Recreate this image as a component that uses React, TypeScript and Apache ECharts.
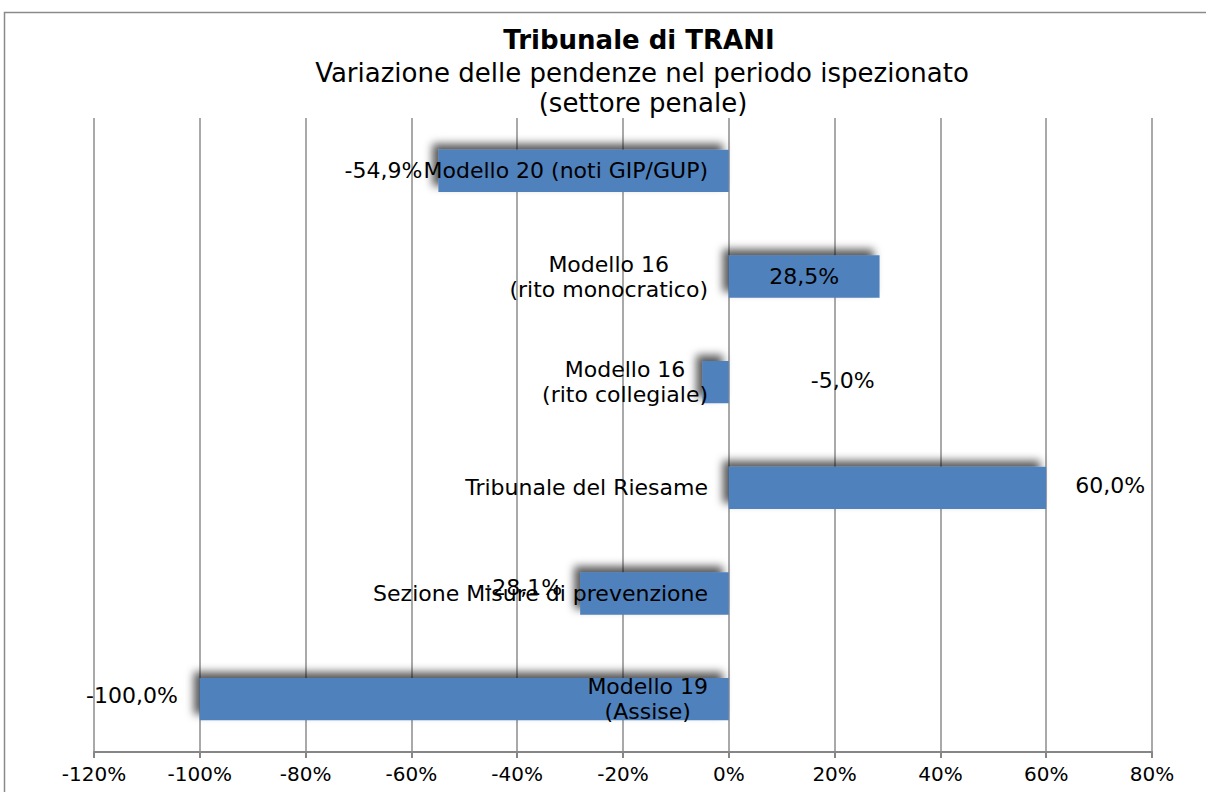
import React, { useEffect, useRef } from "react";
import * as echarts from "echarts";

const titleLines = ["Tribunale di TRANI", "Variazione delle pendenze nel periodo ispezionato", "(settore penale)"];
const categories = [
  "Modello 20 (noti GIP/GUP)",
  "Modello 16\n(rito monocratico)",
  "Modello 16\n(rito collegiale)",
  "Tribunale del Riesame",
  "Sezione Misure di prevenzione",
  "Modello 19\n(Assise)",
];
const values = [-54.9, 28.5, -5.0, 60.0, -28.1, -100.0];
const labelPositions = ["left", "inside", "right", "right", "left", "left"];
const labelDistances = [16, 5, 82, 29, 18, 22];
const labelOffsets = [[0, 0], [0, 0], [0, -2], [0, -2], [0, -6], [0, -4]];
const xTicks = { min: -120, max: 80, interval: 20 };

const FONT = "DejaVu Sans, Verdana, sans-serif";

export default function App() {
  const ref = useRef<HTMLDivElement>(null);
  useEffect(() => {
    if (!ref.current) return;
    const chart = echarts.init(ref.current, undefined, { renderer: "svg" });
    const fmt = (v: number) => v.toFixed(1).replace(".", ",") + "%";
    const gridLeft = 94;
    const zeroX = 728;
    chart.setOption({
      animation: false,
      backgroundColor: "#ffffff",
      graphic: [
        {
          type: "rect",
          z: -10,
          shape: { x: 4.5, y: 12.5, width: 1300, height: 900 },
          style: { fill: "none", stroke: "#8a8a8a", lineWidth: 1.5 },
        },
        {
          type: "text",
          x: 639,
          y: 40,
          style: { text: titleLines[0], font: `bold 26px ${FONT}`, fill: "#000", textAlign: "center", textVerticalAlign: "middle" },
        },
        {
          type: "text",
          x: 642,
          y: 73,
          style: { text: titleLines[1], font: `26px ${FONT}`, fill: "#000", textAlign: "center", textVerticalAlign: "middle" },
        },
        {
          type: "text",
          x: 643,
          y: 103,
          style: { text: titleLines[2], font: `26px ${FONT}`, fill: "#000", textAlign: "center", textVerticalAlign: "middle" },
        },
      ],
      grid: { left: gridLeft, right: 54, top: 118, bottom: 40, containLabel: false, outerBoundsMode: "none" },
      xAxis: {
        type: "value",
        min: xTicks.min,
        max: xTicks.max,
        interval: xTicks.interval,
        axisLine: { show: true, onZero: false, lineStyle: { color: "#868686", width: 2 } },
        axisTick: { show: true, length: 6, lineStyle: { color: "#868686", width: 2 } },
        axisLabel: { formatter: "{value}%", fontFamily: FONT, fontSize: 20, color: "#000", margin: 12 },
        splitLine: { show: true, lineStyle: { color: "#8c8c8c", width: 1.5 } },
      },
      yAxis: {
        type: "category",
        inverse: true,
        data: categories,
        z: 5,
        axisLine: { show: false, onZero: false },
        axisTick: { show: false },
        axisLabel: {
          margin: -(zeroX - 20 - gridLeft),
          align: "right",
          formatter: (v: string) => v.split("\n").map((l) => `{c|${l}}`).join("\n"),
          rich: { c: { align: "center", fontFamily: FONT, fontSize: 22, color: "#000", lineHeight: 25 } },
        },
      },
      series: [
        {
          type: "bar",
          barWidth: "40%",
          data: values.map((v, i) => ({
            value: v,
            label: {
              show: true,
              position: labelPositions[i],
              distance: labelDistances[i],
              offset: labelOffsets[i],
              formatter: () => fmt(v),
              fontFamily: FONT,
              fontSize: 22,
              color: "#000",
            },
          })),
          itemStyle: {
            color: "#4f81bd",
            shadowColor: "rgba(0,0,0,0.65)",
            shadowBlur: 8,
            shadowOffsetX: -6,
            shadowOffsetY: -6,
          },
        },
      ],
    });
    return () => chart.dispose();
  }, []);
  return <div ref={ref} style={{ position: "fixed", left: 0, top: 0, width: 1206, height: 792 }} />;
}
